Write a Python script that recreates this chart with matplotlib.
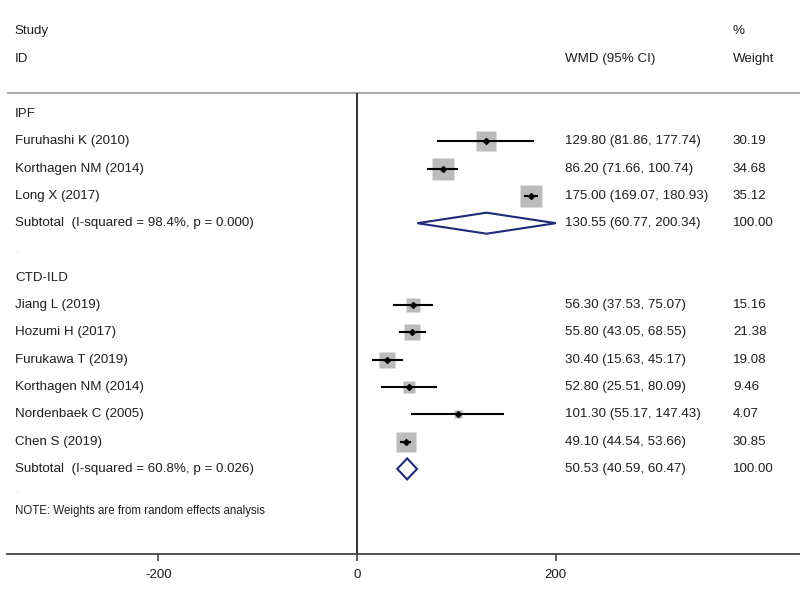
import numpy as np
import matplotlib.pyplot as plt
from matplotlib.patches import Polygon

plt.rcParams['font.family'] = ['Liberation Sans', 'DejaVu Sans']

# ---- data ----
ipf_studies = ["Furuhashi K (2010)", "Korthagen NM (2014)", "Long X (2017)"]
ipf_wmd = [129.80, 86.20, 175.00]
ipf_lo = [81.86, 71.66, 169.07]
ipf_hi = [177.74, 100.74, 180.93]
ipf_weight = [30.19, 34.68, 35.12]
ipf_sub = (130.55, 60.77, 200.34)
ipf_sub_label = "Subtotal  (I-squared = 98.4%, p = 0.000)"

ctd_studies = ["Jiang L (2019)", "Hozumi H (2017)", "Furukawa T (2019)",
               "Korthagen NM (2014)", "Nordenbaek C (2005)", "Chen S (2019)"]
ctd_wmd = [56.30, 55.80, 30.40, 52.80, 101.30, 49.10]
ctd_lo = [37.53, 43.05, 15.63, 25.51, 55.17, 44.54]
ctd_hi = [75.07, 68.55, 45.17, 80.09, 147.43, 53.66]
ctd_weight = [15.16, 21.38, 19.08, 9.46, 4.07, 30.85]
ctd_sub = (50.53, 40.59, 60.47)
ctd_sub_label = "Subtotal  (I-squared = 60.8%, p = 0.026)"

xticks = [-200, 0, 200]
note = "NOTE: Weights are from random effects analysis"

# ---- layout ----
W, H = 800, 593
fig = plt.figure(figsize=(W / 100, H / 100), dpi=100)
ax = fig.add_axes([7 / W, 39 / H, 793 / W, 554 / H])
ax.set_xlim(-352.6, 446.3)
ax.set_ylim(554, 0)

TXT = "#1E1E1E"
FS = 9.6
COL_LABEL = 0.010
COL_WMD = 0.704
COL_WT = 0.9155
lab = ax.get_yaxis_transform()

y0, dy = 114, 27.3


def row_y(i):
    return y0 + i * dy


def label(y, s, col=COL_LABEL, **kw):
    kw.setdefault("fontsize", FS)
    kw.setdefault("color", TXT)
    ax.text(col, y, s, transform=lab, va="center", **kw)


def study_row(y, name, est, lo, hi, w):
    label(y, name)
    side = 2.6 * np.sqrt(w)
    ax.plot([est], [y], marker="s", markersize=side, color="#BBBBBB", mec="none", zorder=2)
    ax.plot([lo, hi], [y, y], color="black", lw=1.5, zorder=3)
    ax.plot([est], [y], marker="D", markersize=3, color="black", zorder=4)
    label(y, f"{est:.2f} ({lo:.2f}, {hi:.2f})", COL_WMD)
    label(y, f"{w:.2f}", COL_WT)


def subtotal_row(y, text, sub):
    est, lo, hi = sub
    label(y, text)
    h = 10.5
    ax.add_patch(Polygon([[lo, y], [est, y - h], [hi, y], [est, y + h]], closed=True,
                         fill=False, edgecolor="#1F2A78", lw=1.5, zorder=3))
    label(y, f"{est:.2f} ({lo:.2f}, {hi:.2f})", COL_WMD)
    label(y, "100.00", COL_WT)


# header
label(31, "Study")
label(59, "ID")
label(59, "WMD (95% CI)", COL_WMD)
label(31, "%", COL_WT)
label(59, "Weight", COL_WT)
ax.axhline(93, color="#AAAAAA", lw=1.5)

# IPF group
i = 0
label(row_y(i), "IPF")
for k, name in enumerate(ipf_studies):
    i += 1
    study_row(row_y(i), name, ipf_wmd[k], ipf_lo[k], ipf_hi[k], ipf_weight[k])
i += 1
subtotal_row(row_y(i), ipf_sub_label, ipf_sub)
i += 1
label(row_y(i), ".", fontsize=6, color="#AABBCC")

# CTD-ILD group
i += 1
label(row_y(i), "CTD-ILD")
for k, name in enumerate(ctd_studies):
    i += 1
    study_row(row_y(i), name, ctd_wmd[k], ctd_lo[k], ctd_hi[k], ctd_weight[k])
i += 1
subtotal_row(row_y(i), ctd_sub_label, ctd_sub)
label(row_y(i) + 23, ".", fontsize=6, color="#AABBCC")
label(row_y(i) + 42, note, fontsize=8.3)

# null line
ax.vlines(0, 93, 554, color="#222222", lw=1.3)

# axis
for s in ["top", "left", "right"]:
    ax.spines[s].set_visible(False)
ax.spines["bottom"].set_color("#444444")
ax.spines["bottom"].set_linewidth(1.3)
ax.set_yticks([])
ax.set_xticks(xticks)
ax.set_xticklabels([str(t) for t in xticks])
ax.tick_params(axis="x", direction="out", length=5, width=1.2, color="#444444",
               labelsize=FS, labelcolor=TXT, pad=6)

fig.savefig("out.png", dpi=100, facecolor="white")
